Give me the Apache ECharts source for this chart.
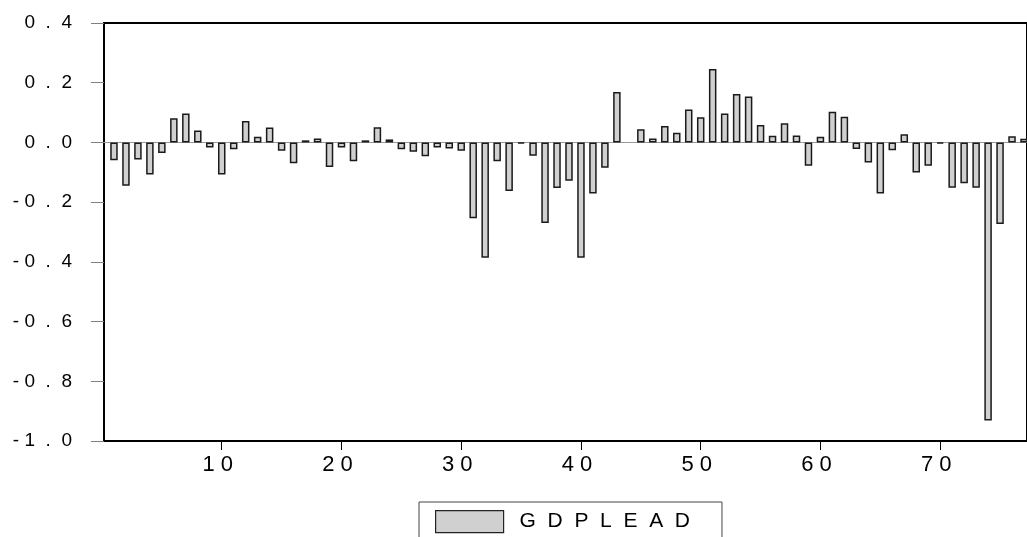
<!DOCTYPE html>
<html>
<head>
<meta charset="utf-8">
<script src="https://cdn.jsdelivr.net/npm/echarts@6/dist/echarts.min.js"></script>
<style>
html,body{margin:0;padding:0;background:#fff;}
#chart{width:1027px;height:537px;}
</style>
</head>
<body>
<div id="chart"></div>
<script>
const seriesName = 'GDPLEAD';
const legendLabel = 'G  D  P  L  E  A  D';
const periods = [1,2,3,4,5,6,7,8,9,10,11,12,13,14,15,16,17,18,19,20,21,22,23,24,25,26,27,28,29,30,31,32,33,34,35,36,37,38,39,40,41,42,43,44,45,46,47,48,49,50,51,52,53,54,55,56,57,58,59,60,61,62,63,64,65,66,67,68,69,70,71,72,73,74,75,76,77];
const gdplead = [
  -0.060, -0.145, -0.057, -0.107, -0.035, 0.081, 0.097, 0.040, -0.017, -0.107,
  -0.023, 0.072, 0.019, 0.050, -0.028, -0.070, 0.007, 0.013, -0.082, -0.017,
  -0.063, 0.007, 0.051, 0.010, -0.023, -0.031, -0.046, -0.017, -0.020, -0.028,
  -0.254, -0.386, -0.063, -0.163, -0.004, -0.045, -0.270, -0.153, -0.128, -0.386,
  -0.171, -0.085, 0.169, null, 0.044, 0.013, 0.055, 0.032, 0.110, 0.084,
  0.246, 0.097, 0.162, 0.154, 0.058, 0.022, 0.064, 0.023, -0.078, 0.019,
  0.103, 0.086, -0.022, -0.067, -0.171, -0.026, 0.027, -0.101, -0.078, -0.004,
  -0.152, -0.137, -0.152, -0.931, -0.273, 0.021, 0.012
];
const xTickValues = [10, 20, 30, 40, 50, 60, 70];
const xTickLabels = ['1 0', '2 0', '3 0', '4 0', '5 0', '6 0', '7 0'];
const yTickValues = [-1.0, -0.8, -0.6, -0.4, -0.2, 0.0, 0.2, 0.4];
const yTickLabels = ['- 1  .  0', '- 0  .  8', '- 0  .  6', '- 0  .  4', '- 0  .  2', '0  .  0', '0  .  2', '0  .  4'];

const chart = echarts.init(document.getElementById('chart'), null, {renderer: 'canvas'});
const data = periods.map((p, i) => [p, gdplead[i]]);

chart.setOption({
  animation: false,
  backgroundColor: '#ffffff',
  textStyle: {fontFamily: 'Liberation Sans, Arial, sans-serif'},
  grid: {
    left: 104, top: 23, right: -2, bottom: 96,
    show: true, borderColor: '#000', borderWidth: 2, backgroundColor: 'transparent'
  },
  legend: {
    data: [seriesName],
    left: 419, top: 502,
    orient: 'horizontal',
    padding: [8, 32, 30, 16],
    borderColor: '#444', borderWidth: 1,
    itemWidth: 68, itemHeight: 22,
    icon: 'rect',
    itemStyle: {color: '#d0d0d0', borderColor: '#222', borderWidth: 1.2},
    formatter: () => legendLabel,
    textStyle: {fontSize: 21, color: '#000', fontFamily: 'Liberation Sans, Arial, sans-serif', padding: [0, 0, 0, 11]}
  },
  xAxis: {
    type: 'value',
    min: (104 - 102) / 12,
    max: (1029 - 102) / 12,
    splitLine: {show: false},
    axisLine: {show: true, onZero: false, lineStyle: {color: '#000', width: 2}},
    axisTick: {show: true, customValues: xTickValues, length: 9, lineStyle: {color: '#000', width: 1}},
    axisLabel: {
      customValues: xTickValues,
      margin: 13,
      fontSize: 22, color: '#000',
      padding: [0, 8, 0, 0],
      fontFamily: 'Liberation Sans, Arial, sans-serif',
      formatter: (v) => { const i = xTickValues.indexOf(Math.round(v)); return i >= 0 ? xTickLabels[i] : ''; }
    }
  },
  yAxis: {
    type: 'value',
    min: -1.0, max: 0.4, interval: 0.2,
    splitLine: {show: false},
    axisLine: {show: true, lineStyle: {color: '#000', width: 2}},
    axisTick: {show: true, length: 13, lineStyle: {color: '#808080', width: 1}},
    axisLabel: {
      margin: 32,
      fontSize: 19, color: '#000',
      fontFamily: 'Liberation Sans, Arial, sans-serif',
      formatter: (v) => { const i = Math.round((v - yTickValues[0]) / 0.2); return yTickLabels[i] || ''; }
    }
  },
  series: [{
    name: seriesName,
    type: 'bar',
    data: data,
    barWidth: 7.5,
    z: 3,
    itemStyle: {color: '#d0d0d0', borderColor: '#1a1a1a', borderWidth: 1.5},
    markLine: {
      silent: true,
      symbol: ['none', 'none'],
      z: 1,
      label: {show: false},
      lineStyle: {color: '#9a9a9a', width: 1, type: 'solid'},
      data: [{yAxis: 0}]
    }
  }]
});
</script>
</body>
</html>
